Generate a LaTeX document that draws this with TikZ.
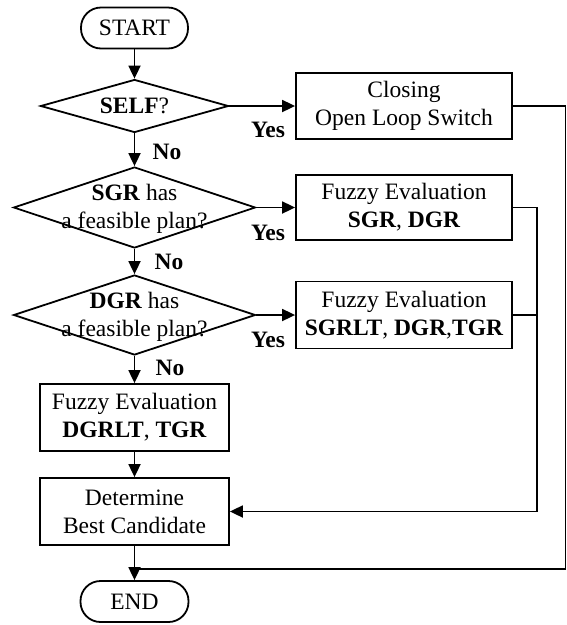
\documentclass[tikz,border=0pt]{standalone}
\usepackage{fontspec}
\setmainfont{Liberation Serif}
\usetikzlibrary{shapes.geometric,arrows.meta}
\begin{document}
\begin{tikzpicture}[x=1pt,y=-1pt,line width=1.8pt,
  every node/.style={font=\fontsize{23.5}{28}\selectfont},
  box/.style={draw,rectangle,align=center,inner sep=1pt},
  term/.style={draw,rectangle,rounded corners=20pt,minimum width=107pt,minimum height=41pt,inner sep=1pt},
  decision/.style={draw,diamond,inner sep=0pt},
  flow/.style={-{Triangle[length=13pt,width=12pt]}},
  lbl/.style={font=\fontsize{23.5}{28}\selectfont\bfseries}]
\useasboundingbox (0,0) rectangle (567,625);

% left column
\node[term] (start) at (134.5,28) {START};
\node[decision,minimum width=188pt,minimum height=53pt] (d1) at (134.5,106) {};
\node (t1) at (134.5,106) {\textbf{SELF}?};
\node[decision,minimum width=242pt,minimum height=81pt] (d2) at (134.5,207.5) {};
\node[align=center] (t2) at (134.5,209) {\textbf{SGR} has\\a feasible plan?};
\node[decision,minimum width=242pt,minimum height=80pt] (d3) at (134.5,315) {};
\node[align=center] (t3) at (134.5,316.5) {\textbf{DGR} has\\a feasible plan?};
\node[box,minimum width=189pt,minimum height=67pt] (fz3) at (134.5,417.5) {Fuzzy Evaluation\\\textbf{DGRLT}, \textbf{TGR}};
\node[box,minimum width=189pt,minimum height=67pt] (best) at (134.5,511.5) {Determine\\Best Candidate};
\node[term,minimum width=108pt] (end) at (134.5,601.5) {END};

% right column
\node[box,minimum width=216pt,minimum height=66pt] (closing) at (404,106) {Closing\\Open Loop Switch};
\node[box,minimum width=216pt,minimum height=65pt] (fz1) at (404,207.5) {Fuzzy Evaluation\\\textbf{SGR}, \textbf{DGR}};
\node[box,minimum width=216pt,minimum height=67pt] (fz2) at (404,315) {Fuzzy Evaluation\\\textbf{SGRLT}, \textbf{DGR},\textbf{TGR}};

% main flow
\draw[flow] (start) -- (d1);
\draw[flow] (d1) -- (d2);
\draw[flow] (d2) -- (d3);
\draw[flow] (d3) -- (fz3);
\draw[flow] (fz3) -- (best);
\draw[flow] (best) -- (end);
\draw[flow] (d1.east) -- (closing.west);
\draw[flow] (d2.east) -- (fz1.west);
\draw[flow] (d3.east) -- (fz2.west);

% return lines
\coordinate (bus) at (537,0);
\coordinate (outer) at (565.5,0);
\coordinate (join) at (134.5,569);
\draw[flow] (fz1.east) -- (fz1.east -| bus) |- (best.east);
\draw (fz2.east) -- (fz2.east -| bus);
\draw (closing.east) -- (closing.east -| outer) |- (join);

% branch labels
\node[lbl] (y1) at (268,130) {Yes};
\node[lbl] (y2) at (268,233) {Yes};
\node[lbl] (y3) at (268,340) {Yes};
\node[lbl] (n1) at (167,152) {No};
\node[lbl] (n2) at (169,262) {No};
\node[lbl] (n3) at (170,368) {No};
\end{tikzpicture}
\end{document}
